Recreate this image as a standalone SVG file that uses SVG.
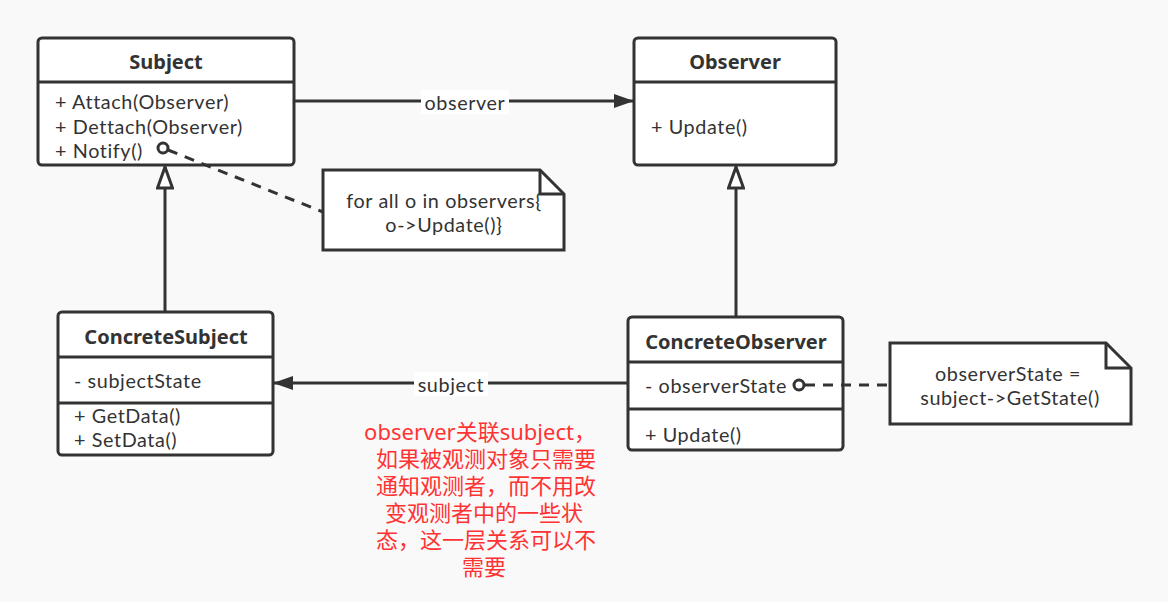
<svg xmlns="http://www.w3.org/2000/svg" width="1168" height="602" viewBox="0 0 1168 602">
<defs>
<style>
.box{fill:#fff;stroke:#333;stroke-width:3}
.div{stroke:#333;stroke-width:3}
.t{font-family:Lato,"Noto Sans","Liberation Sans",sans-serif;font-size:19.8px;letter-spacing:0.6px;fill:#333}
.b{font-family:"Noto Sans","Liberation Sans",sans-serif;font-weight:bold;text-anchor:middle;font-size:20px}
.c{text-anchor:middle}
.ln{stroke:#333;stroke-width:3;fill:none}
.dash{stroke:#333;stroke-width:3;fill:none;stroke-dasharray:10 8}
.dot{fill:#fff;stroke:#333;stroke-width:3}
.red{font-family:"Noto Sans","Noto Sans CJK SC",sans-serif;font-size:22px;fill:#ff3333;text-anchor:middle}
</style>
<marker id="fill" viewBox="0 0 20 14" refX="20" refY="7" markerWidth="20" markerHeight="14" markerUnits="userSpaceOnUse" orient="auto">
<path d="M0,0 L20,7 L0,14 Z" fill="#333"/>
</marker>
<marker id="hollow" viewBox="0 0 24 18" refX="22.5" refY="9" markerWidth="24" markerHeight="18" markerUnits="userSpaceOnUse" orient="auto">
<path d="M1.5,1.5 L22.5,9 L1.5,16.5 Z" fill="#fff" stroke="#333" stroke-width="3"/>
</marker>
</defs>
<rect width="1168" height="602" fill="#f9f9f9"/>
<g id="subject">
<rect class="box" x="38" y="38" width="256" height="127" rx="4"/>
<line class="div" x1="38" y1="82" x2="294" y2="82"/>
<text class="b" x="166" y="69" fill="#333">Subject</text>
<text class="t"><tspan x="55" y="109">+ Attach(Observer)</tspan><tspan x="55" y="134">+ Dettach(Observer)</tspan><tspan x="55" y="158">+ Notify()</tspan></text>
</g>
<g id="observer">
<rect class="box" x="634" y="38" width="202" height="127" rx="4"/>
<line class="div" x1="634" y1="82" x2="836" y2="82"/>
<text class="b" x="735" y="69" fill="#333">Observer</text>
<text class="t" x="651" y="134">+ Update()</text>
</g>
<g id="concreteSubject">
<rect class="box" x="58" y="312" width="215" height="143" rx="4"/>
<line class="div" x1="58" y1="357" x2="273" y2="357"/>
<line class="div" x1="58" y1="403" x2="273" y2="403"/>
<text class="b" x="166" y="344" fill="#333">ConcreteSubject</text>
<text class="t" x="74" y="388">- subjectState</text>
<text class="t"><tspan x="74" y="423">+ GetData()</tspan><tspan x="74" y="447">+ SetData()</tspan></text>
</g>
<g id="concreteObserver">
<rect class="box" x="628" y="317" width="215" height="133" rx="4"/>
<line class="div" x1="628" y1="362" x2="843" y2="362"/>
<line class="div" x1="628" y1="409" x2="843" y2="409"/>
<text class="b" x="736" y="349" fill="#333">ConcreteObserver</text>
<text class="t" x="645" y="393">- observerState</text>
<text class="t" x="645" y="442">+ Update()</text>
</g>
<g id="note1">
<path class="box" d="M323,170 L540,170 L564,194 L564,250 L323,250 Z"/>
<path class="ln" d="M540,170 L540,194 L564,194"/>
<text class="t c"><tspan x="444" y="208">for all o in observers{</tspan><tspan x="444" y="232">o-&gt;Update()}</tspan></text>
</g>
<g id="note2">
<path class="box" d="M890,343 L1106,343 L1131,368 L1131,424 L890,424 Z"/>
<path class="ln" d="M1106,343 L1106,368 L1131,368"/>
<text class="t c"><tspan x="1008" y="381">observerState =</tspan><tspan x="1010" y="405">subject-&gt;GetState()</tspan></text>
</g>
<g id="connectors">
<path class="ln" d="M294,101 L634,101" marker-end="url(#fill)"/>
<rect x="421" y="90" width="88" height="24" fill="#fff"/>
<text class="t c" x="465" y="110">observer</text>
<path class="ln" d="M165,312 L165,167" marker-end="url(#hollow)"/>
<path class="ln" d="M736,317 L736,167" marker-end="url(#hollow)"/>
<path class="ln" d="M628,383 L273,383" marker-end="url(#fill)"/>
<rect x="414" y="372" width="74" height="24" fill="#fff"/>
<text class="t c" x="451" y="392">subject</text>
<path class="dash" d="M168,150 L323,212"/>
<circle class="dot" cx="163" cy="148" r="5"/>
<path class="dash" d="M805,385 L890,385"/>
<circle class="dot" cx="799" cy="385" r="5"/>
</g>
<g id="remark">
<text class="red"><tspan x="480" y="440">observer关联subject，</tspan><tspan x="486" y="467">如果被观测对象只需要</tspan><tspan x="486" y="494">通知观测者，而不用改</tspan><tspan x="484" y="521">变观测者中的一些状</tspan><tspan x="486" y="548">态，这一层关系可以不</tspan><tspan x="484" y="575">需要</tspan></text>
</g>
</svg>
